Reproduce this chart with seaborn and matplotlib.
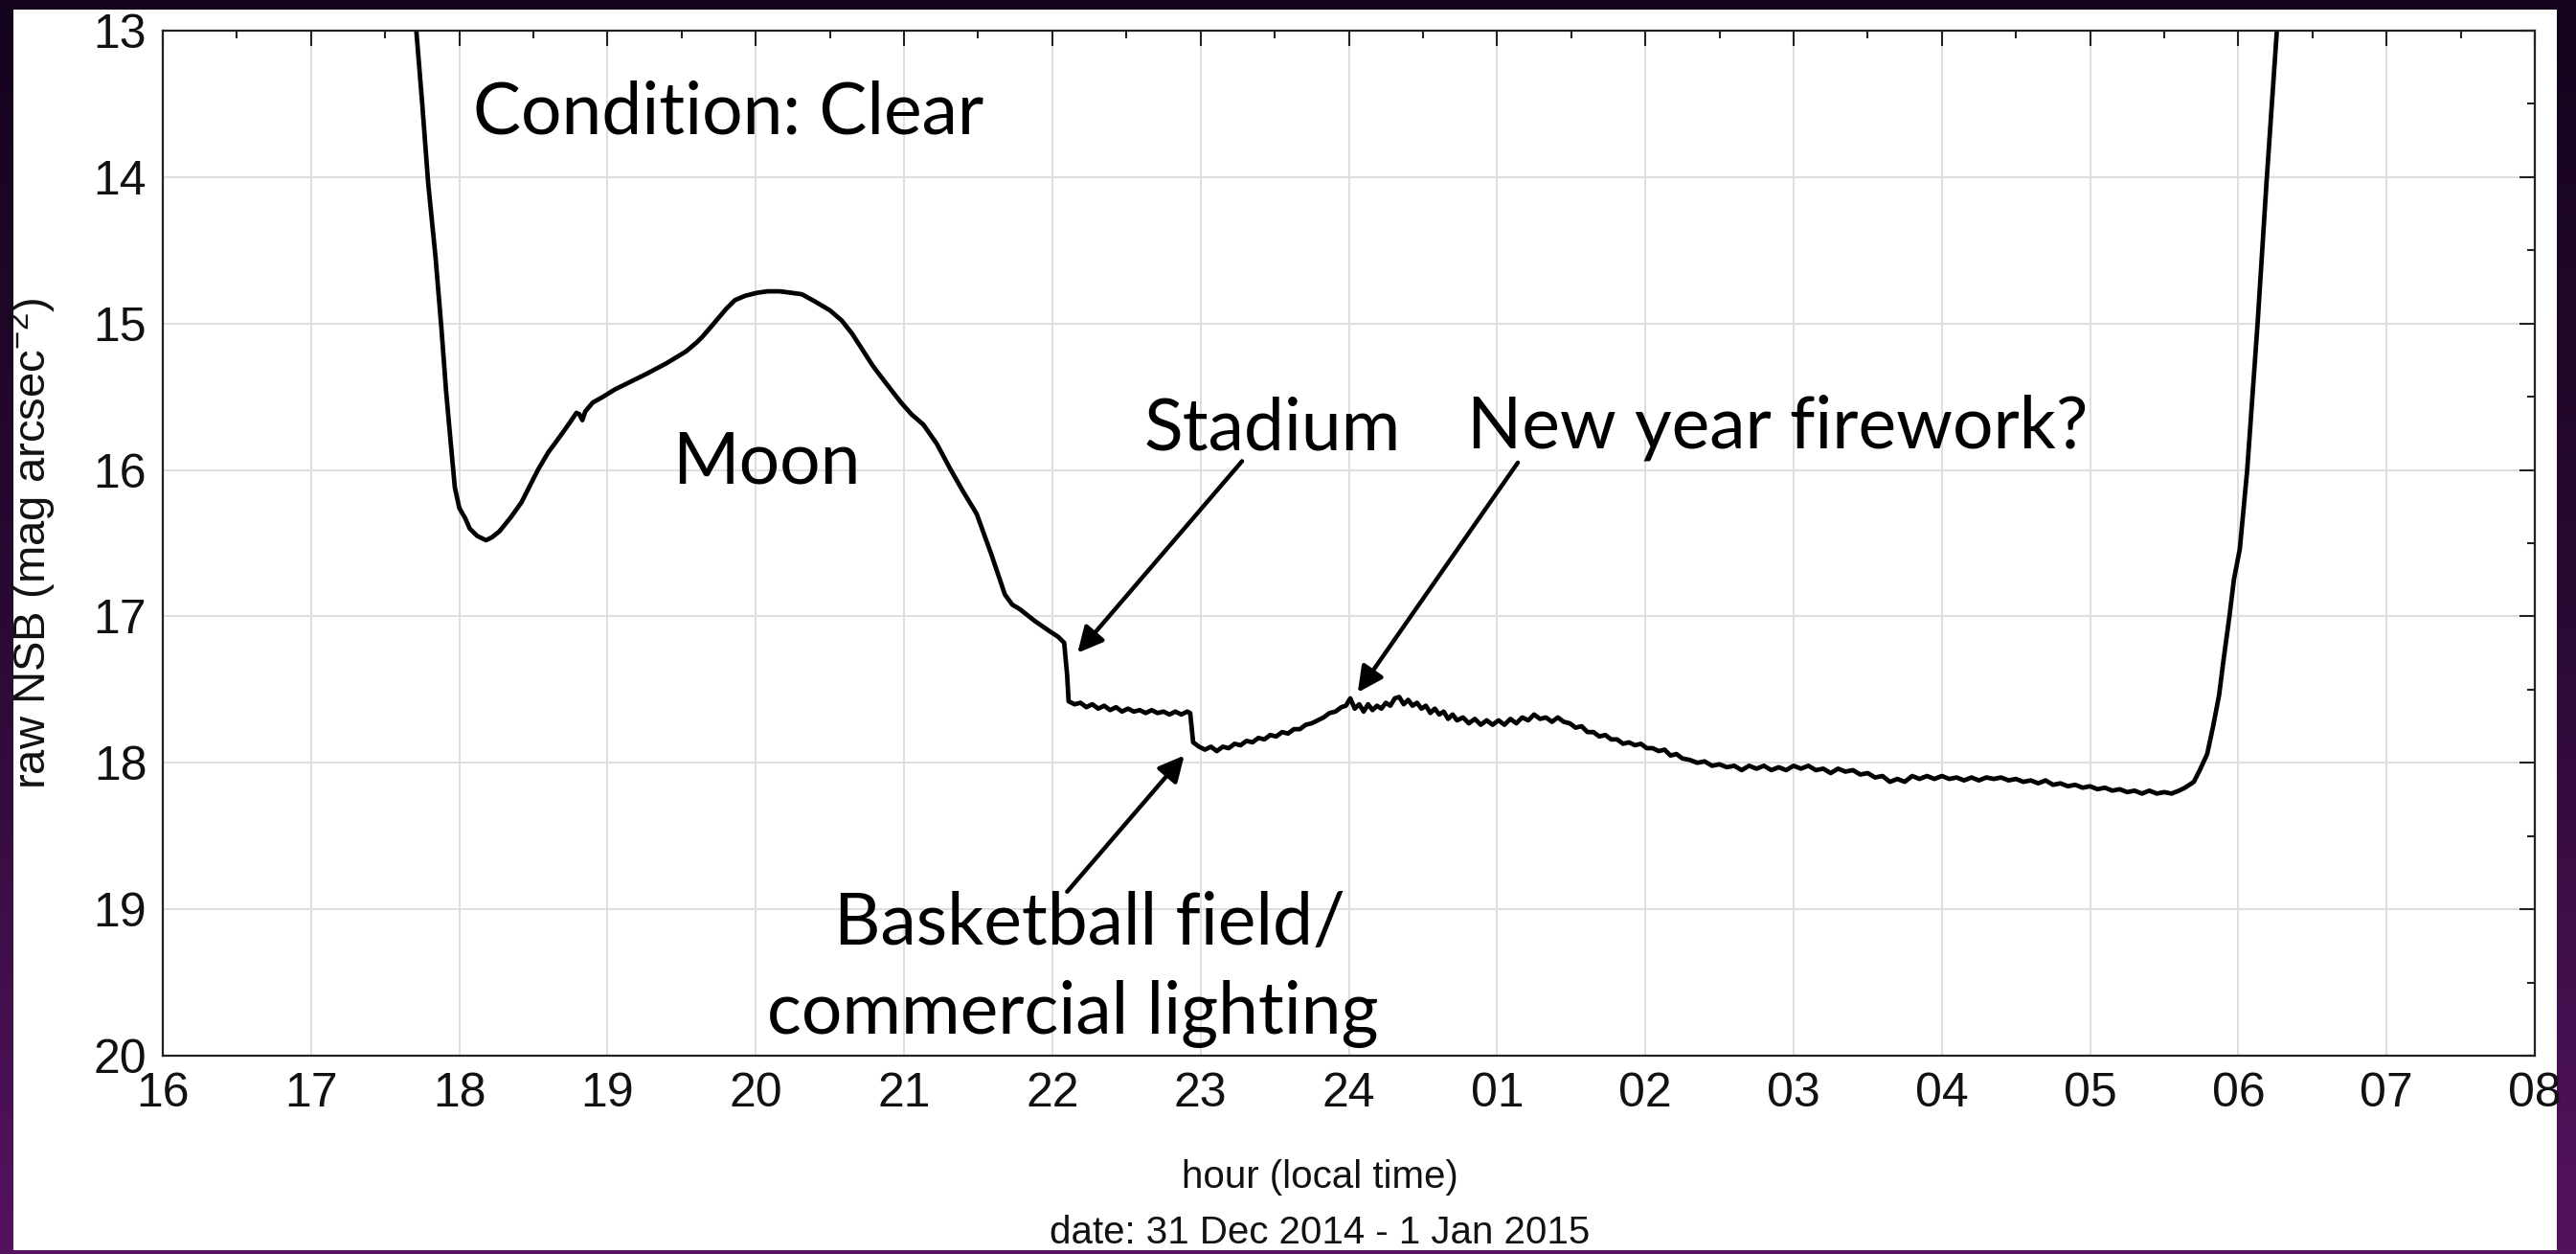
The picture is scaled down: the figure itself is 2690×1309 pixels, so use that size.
"""
Night sky brightness curve for 31 Dec 2014 - 1 Jan 2015, slide style.
"""

import matplotlib

matplotlib.use("Agg")

import matplotlib.pyplot as plt
import numpy as np
import pandas as pd
import seaborn as sns
from matplotlib.colors import LinearSegmentedColormap
from matplotlib.patches import Rectangle

# evening part: twilight, moon, stadium switch-off (hours, 24 = midnight)
hours_evening = [
    17.69, 17.71, 17.75, 17.79, 17.84, 17.88, 17.91, 17.94, 17.97, 18.00,
    18.04, 18.07, 18.12, 18.18, 18.22, 18.27, 18.35, 18.42, 18.48, 18.53,
    18.60, 18.68, 18.75, 18.79, 18.81, 18.83, 18.85, 18.90, 18.97, 19.05,
    19.15, 19.27, 19.40, 19.53, 19.60, 19.64, 19.70, 19.75, 19.80, 19.86,
    19.93, 20.01, 20.08, 20.16, 20.24, 20.31, 20.40, 20.50, 20.58, 20.65,
    20.72, 20.79, 20.88, 20.98, 21.05, 21.13, 21.22, 21.31, 21.40, 21.49,
    21.59, 21.68, 21.73, 21.78, 21.88, 21.98, 22.04, 22.08, 22.10,
]
nsb_evening = [
    12.60, 13.00, 13.50, 14.04, 14.55, 15.04, 15.45, 15.79, 16.12, 16.26,
    16.33, 16.40, 16.45, 16.48, 16.46, 16.42, 16.32, 16.22, 16.10, 16.00,
    15.88, 15.77, 15.67, 15.61, 15.62, 15.66, 15.60, 15.54, 15.50, 15.45,
    15.40, 15.34, 15.27, 15.19, 15.13, 15.09, 15.02, 14.96, 14.90, 14.84,
    14.81, 14.79, 14.78, 14.78, 14.79, 14.80, 14.85, 14.91, 14.98, 15.07,
    15.18, 15.29, 15.41, 15.54, 15.62, 15.69, 15.82, 15.99, 16.15, 16.30,
    16.58, 16.85, 16.92, 16.95, 17.03, 17.10, 17.14, 17.18, 17.40,
]

# night part: noisy plateau after 22h
hours_night = [
    22.11, 22.15, 22.19, 22.23, 22.27, 22.31, 22.35, 22.39, 22.43, 22.47,
    22.51, 22.55, 22.59, 22.63, 22.67, 22.71, 22.75, 22.79, 22.83, 22.87,
    22.91, 22.93, 22.94, 22.95, 22.99, 23.03, 23.07, 23.11, 23.15, 23.19,
    23.23, 23.27, 23.31, 23.35, 23.39, 23.43, 23.47, 23.51, 23.55, 23.59,
    23.63, 23.67, 23.71, 23.75, 23.79, 23.83, 23.87, 23.91, 23.95, 23.98,
    24.01, 24.04, 24.07, 24.10, 24.13, 24.16, 24.19, 24.22, 24.25, 24.28,
    24.31, 24.34, 24.37, 24.40, 24.43, 24.46, 24.49, 24.52, 24.55, 24.58,
    24.61, 24.64, 24.67, 24.70, 24.73, 24.77, 24.81, 24.85, 24.89, 24.93,
    24.97, 25.01, 25.05, 25.09, 25.13, 25.17, 25.21, 25.25, 25.29, 25.33,
    25.37, 25.41, 25.45, 25.49, 25.53, 25.57, 25.61, 25.65, 25.69, 25.73,
    25.77, 25.81, 25.85, 25.89, 25.93, 25.97, 26.01, 26.05, 26.09, 26.13,
    26.17, 26.21, 26.25, 26.30, 26.35, 26.40, 26.45, 26.50, 26.55, 26.60,
    26.65, 26.70, 26.75, 26.80, 26.85, 26.90, 26.95, 27.00, 27.05, 27.10,
    27.15, 27.20, 27.25, 27.30, 27.35, 27.40, 27.45, 27.50, 27.55, 27.60,
    27.65, 27.70, 27.75, 27.80, 27.85, 27.90, 27.95, 28.00, 28.05, 28.10,
    28.15, 28.20, 28.25, 28.30, 28.35, 28.40, 28.45, 28.50, 28.55, 28.60,
    28.65, 28.70, 28.75, 28.80, 28.85, 28.90, 28.95, 29.00, 29.05, 29.10,
    29.15, 29.20, 29.25, 29.30, 29.35, 29.40, 29.45, 29.50, 29.55, 29.60,
]
nsb_night = [
    17.58, 17.60, 17.59, 17.62, 17.60, 17.63, 17.61, 17.64, 17.62, 17.65,
    17.63, 17.65, 17.64, 17.66, 17.64, 17.66, 17.65, 17.67, 17.65, 17.67,
    17.65, 17.66, 17.76, 17.86, 17.89, 17.91, 17.89, 17.92, 17.89, 17.90,
    17.87, 17.88, 17.85, 17.86, 17.83, 17.84, 17.81, 17.82, 17.79, 17.80,
    17.77, 17.77, 17.74, 17.73, 17.71, 17.69, 17.66, 17.65, 17.62, 17.61,
    17.56, 17.63, 17.60, 17.65, 17.60, 17.64, 17.61, 17.63, 17.59, 17.61,
    17.56, 17.55, 17.60, 17.57, 17.61, 17.59, 17.63, 17.61, 17.66, 17.63,
    17.67, 17.65, 17.70, 17.67, 17.71, 17.69, 17.73, 17.70, 17.74, 17.71,
    17.74, 17.71, 17.74, 17.70, 17.73, 17.69, 17.71, 17.67, 17.70, 17.69,
    17.72, 17.69, 17.72, 17.73, 17.76, 17.75, 17.79, 17.79, 17.82, 17.81,
    17.84, 17.84, 17.87, 17.86, 17.88, 17.87, 17.90, 17.90, 17.92, 17.91,
    17.95, 17.94, 17.97, 17.98, 18.00, 17.99, 18.02, 18.01, 18.03, 18.02,
    18.05, 18.02, 18.04, 18.02, 18.05, 18.03, 18.05, 18.02, 18.04, 18.02,
    18.05, 18.04, 18.07, 18.04, 18.06, 18.05, 18.08, 18.07, 18.10, 18.09,
    18.13, 18.11, 18.13, 18.09, 18.11, 18.09, 18.11, 18.09, 18.11, 18.10,
    18.12, 18.10, 18.12, 18.10, 18.11, 18.10, 18.12, 18.11, 18.13, 18.12,
    18.14, 18.12, 18.15, 18.14, 18.16, 18.15, 18.17, 18.16, 18.18, 18.17,
    18.19, 18.18, 18.20, 18.19, 18.21, 18.19, 18.21, 18.20, 18.21, 18.19,
]

# dawn part: twilight rise
hours_dawn = [29.64, 29.70, 29.74, 29.79, 29.83, 29.87, 29.90, 29.94,
              29.97, 30.01, 30.06, 30.13, 30.19, 30.26, 30.28]
nsb_dawn = [18.17, 18.13, 18.05, 17.94, 17.75, 17.54, 17.30, 17.00,
            16.75, 16.54, 16.00, 15.00, 14.04, 13.00, 12.60]

hour_ticks = list(range(16, 33))
hour_labels = ["16", "17", "18", "19", "20", "21", "22", "23", "24",
               "01", "02", "03", "04", "05", "06", "07", "08"]
nsb_ticks = [13, 14, 15, 16, 17, 18, 19, 20]

# annotations: text, hour, mag, alignment
notes = [
    ("Condition: Clear", 18.09, 13.70, "left"),
    ("Moon", 19.44, 16.09, "left"),
    ("Stadium", 22.62, 15.86, "left"),
    ("New year firework?", 24.80, 15.85, "left"),
    ("Basketball field/", 22.25, 19.24, "center"),
    ("commercial lighting", 22.14, 19.85, "center"),
]
# arrows: head hour, head mag, tail hour, tail mag
arrows = [
    (22.17, 17.25, 23.28, 15.94),
    (24.06, 17.52, 25.14, 15.95),
    (22.89, 17.95, 22.10, 18.88),
]

df = pd.DataFrame({
    "hour": hours_evening + hours_night + hours_dawn,
    "nsb": nsb_evening + nsb_night + nsb_dawn,
})

sns.set_theme(style="white")
plt.rcParams["font.family"] = ["Liberation Sans", "DejaVu Sans"]
plt.rcParams["mathtext.default"] = "regular"

W, H = 2690, 1309
fig = plt.figure(figsize=(W / 100, H / 100), dpi=100)

# dark purple slide background with a white card on top
bg_cmap = LinearSegmentedColormap.from_list("slide", ["#14031c", "#2a0a34", "#55135f"])
bg = fig.add_axes([0, 0, 1, 1], zorder=-2)
bg.imshow(np.linspace(0, 1, 256).reshape(-1, 1), aspect="auto", cmap=bg_cmap,
          extent=[0, 1, 0, 1], origin="upper")
bg.set_axis_off()
fig.patches.append(Rectangle((14 / W, 4 / H), 2656 / W, 1295 / H,
                             transform=fig.transFigure, facecolor="white",
                             edgecolor="none", zorder=-1))

ax = fig.add_axes([170 / W, 207 / H, 2477 / W, 1070 / H])
ax.set_facecolor("white")

sns.lineplot(data=df, x="hour", y="nsb", ax=ax, color="black", linewidth=3.4,
             estimator=None, sort=False)

ax.set_xlim(16, 32)
ax.set_ylim(20, 13)
ax.set_xticks(hour_ticks)
ax.set_xticklabels(hour_labels)
ax.set_xticks(np.arange(16.5, 32, 1), minor=True)
ax.set_yticks(nsb_ticks)
ax.set_yticks(np.arange(13.5, 20, 1), minor=True)
ax.grid(True, which="major", color="#dedede", linewidth=1.4)
ax.tick_params(which="both", direction="in", top=True, right=True,
               color="#222222", width=1.5)
ax.tick_params(which="major", length=11.5, labelsize=36, labelcolor="#111111")
ax.tick_params(which="minor", length=6)
ax.tick_params(axis="x", which="major", pad=12)
ax.tick_params(axis="y", which="major", pad=12)
for spine in ax.spines.values():
    spine.set_color("#222222")
    spine.set_linewidth(1.6)
ax.set_xlabel("")
ax.set_ylabel("")

fig.text(1378 / W, 1 - 1240 / H, "hour (local time)", ha="center", va="baseline",
         fontsize=29, color="#111111")
fig.text(1378 / W, 1 - 1298 / H, "date: 31 Dec 2014 - 1 Jan 2015", ha="center",
         va="baseline", fontsize=29, color="#111111")
fig.text(33 / W, 1 - 567 / H, "raw NSB (mag arcsec$^{-2}$)", rotation=90,
         ha="center", va="center", fontsize=34, color="#111111")

for text, hx, my, align in notes:
    ax.text(hx, my, text, ha=align, va="baseline", fontsize=54,
            family=["Lato", "DejaVu Sans"], color="black")

for hx, hy, tx, ty in arrows:
    ax.annotate("", xy=(hx, hy), xytext=(tx, ty),
                arrowprops=dict(arrowstyle="-|>", color="black", lw=3.2,
                                mutation_scale=40, shrinkA=0, shrinkB=0))

fig.savefig("out.png", dpi=100)
plt.close(fig)
